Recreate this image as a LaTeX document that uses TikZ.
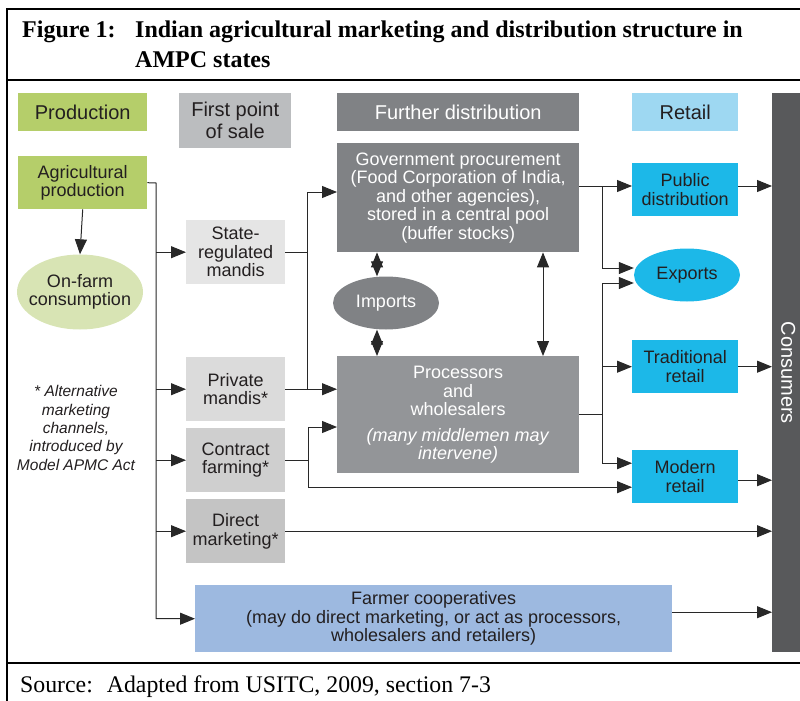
\documentclass[tikz,border=0pt]{standalone}
\usepackage{fontspec}
\setmainfont{Liberation Serif}
\setsansfont{Liberation Sans}
\usetikzlibrary{arrows.meta,shapes.geometric}

\definecolor{prodgreen}{RGB}{181,206,106}
\definecolor{farmgreen}{RGB}{216,228,180}
\definecolor{salegray}{RGB}{187,189,191}
\definecolor{distgray}{RGB}{128,130,133}
\definecolor{procgray}{RGB}{147,149,152}
\definecolor{retailhead}{RGB}{158,216,242}
\definecolor{retailblue}{RGB}{28,184,232}
\definecolor{consgray}{RGB}{88,89,91}
\definecolor{coopblue}{RGB}{157,185,224}
\definecolor{textdark}{RGB}{35,31,32}
\definecolor{linkgray}{RGB}{40,40,40}

\tikzset{
  box/.style={rectangle, inner sep=0pt, anchor=north west, align=center, text=textdark,
    font=\sffamily\fontsize{18}{18.5}\selectfont},
  head/.style={box, font=\sffamily\fontsize{20}{22}\selectfont},
  oval/.style={ellipse, inner sep=0pt, align=center, text=textdark,
    font=\sffamily\fontsize{18}{18.5}\selectfont},
  link/.style={draw=linkgray, line width=1pt},
  arr/.style={link, -{Triangle[length=15pt,width=12pt]}},
  dbl/.style={link, {Triangle[length=15pt,width=12pt]}-{Triangle[length=15pt,width=12pt]}}
}

\begin{document}
\begin{tikzpicture}[x=1pt,y=-1pt]
  \useasboundingbox (0,0) rectangle (800,701);

  % frame and caption
  \draw[line width=1.3pt] (7,701) -- (7,9) -- (800,9);
  \draw[line width=1.3pt] (7,80) -- (800,80);
  \draw[line width=1.3pt] (7,663) -- (800,663);
  \node[anchor=north west, inner sep=0pt, font=\bfseries\fontsize{24}{30}\selectfont] (figlabel) at (22,21) {Figure 1:};
  \node[anchor=north west, inner sep=0pt, align=left, font=\bfseries\fontsize{24}{30}\selectfont] (title) at (135,21)
    {Indian agricultural marketing and distribution structure in\\AMPC states};
  \node[anchor=base west, inner sep=0pt, font=\fontsize{23.8}{28}\selectfont] (source) at (20,692)
    {Source:\hspace{14pt}Adapted from USITC, 2009, section 7-3};

  % column heads
  \node[head, fill=prodgreen, minimum width=129, minimum height=38] (prodhead) at (18,93) {Production};
  \node[head, fill=salegray, minimum width=112, minimum height=55] (salehead) at (179,93) {First point\\of sale};
  \node[head, fill=distgray, text=white, minimum width=242, minimum height=38] (disthead) at (337,93) {Further distribution};
  \node[head, fill=retailhead, minimum width=106, minimum height=38] (retailh) at (632,93) {Retail};
  \node[box, fill=consgray, minimum width=28, minimum height=559] (cons) at (772,93) {};
  \node[rotate=-90, text=white, font=\sffamily\fontsize{20}{22}\selectfont] (conslabel) at ([xshift=2pt]cons.center) {Consumers};

  % production
  \node[box, fill=prodgreen, minimum width=129, minimum height=53] (agri) at (18,156) {Agricultural\\production};
  \node[oval, fill=farmgreen, inner xsep=-7pt, minimum width=126, minimum height=75] (onfarm) at (80,292) {On-farm\\consumption};
  \node[align=center, text=textdark, font=\sffamily\itshape\fontsize{15.5}{18.3}\selectfont] (note) at (76,428)
    {* Alternative\\marketing\\channels,\\introduced by\\Model APMC Act};

  % first point of sale
  \node[box, fill=black!10, minimum width=99, minimum height=64] (state) at (186,220) {State-\\regulated\\mandis};
  \node[box, fill=black!14, minimum width=99, minimum height=64] (private) at (186,357) {Private\\mandis*};
  \node[box, fill=black!19, minimum width=99, minimum height=64] (contract) at (186,428) {Contract\\farming*};
  \node[box, fill=black!23, minimum width=99, minimum height=64] (direct) at (186,499) {Direct\\marketing*};
  \node[box, fill=coopblue, minimum width=477, minimum height=67] (coop) at (195,585)
    {Farmer cooperatives\\(may do direct marketing, or act as processors,\\wholesalers and retailers)};

  % further distribution
  \node[box, fill=distgray, text=white, minimum width=242, minimum height=109] (gov) at (337,143)
    {Government procurement\\(Food Corporation of India,\\and other agencies),\\stored in a central pool\\(buffer stocks)};
  \node[oval, fill=distgray, text=white, minimum width=106, minimum height=53] (imports) at (386,303) {Imports};
  \node[box, fill=procgray, text=white, minimum width=242, minimum height=117] (proc) at (337,356)
    {Processors\\and\\wholesalers\\[7pt]\textit{(many middlemen may}\\\textit{intervene)}};

  % retail
  \node[box, fill=retailblue, minimum width=106, minimum height=53] (public) at (632,163) {Public\\distribution};
  \node[oval, fill=retailblue, minimum width=106, minimum height=53] (exports) at (687,275) {Exports};
  \node[box, fill=retailblue, minimum width=106, minimum height=53] (trad) at (632,340) {Traditional\\retail};
  \node[box, fill=retailblue, minimum width=106, minimum height=53] (modern) at (632,450) {Modern\\retail};

  % trunk points
  \coordinate (trunk) at (156,183);
  \coordinate (gtrunk) at (307,192);
  \coordinate (ctrunk) at (308,427);
  \coordinate (dtrunk) at (602,186);
  \coordinate (ptrunk) at (602,283);
  \coordinate (m1) at ([yshift=13.5pt]modern.west);
  \coordinate (m2) at ([yshift=-10.5pt]modern.west);
  \coordinate (mout) at ([yshift=-3.5pt]modern.east);
  \coordinate (cout) at ([yshift=6.5pt]coop.east);
  \coordinate (imtop) at ([xshift=-9pt]imports.north);
  \coordinate (imbot) at ([xshift=-9pt]imports.south);
  \coordinate (stock) at (543,0);

  % production to first point of sale
  \draw[arr] (agri.south) -- (onfarm.north);
  \draw[arr] (agri.east) -- (trunk) |- (coop.west);
  \draw[arr] (trunk |- state.west) -- (state.west);
  \draw[arr] (trunk |- private.west) -- (private.west);
  \draw[arr] (trunk |- contract.west) -- (contract.west);
  \draw[arr] (trunk |- direct.west) -- (direct.west);

  % first point of sale to further distribution
  \draw[link] (state.east) -- (gtrunk |- state.east);
  \draw[arr] (gtrunk |- private.east) -- (gtrunk) -- (gov.west |- gtrunk);
  \draw[arr] (private.east) -- (proc.west |- private.east);
  \draw[arr] (contract.east) -- (ctrunk |- contract.east) -- (ctrunk) -- (proc.west |- ctrunk);
  \draw[arr] (ctrunk |- contract.east) |- (m2);
  \draw[arr] (direct.east) -- (cons.west |- direct.east);
  \draw[arr] (cout) -- (cons.west |- cout);

  % imports and stocks
  \draw[dbl] (gov.south -| imtop) -- (imtop);
  \draw[dbl] (imbot) -- (proc.north -| imbot);
  \draw[dbl] (gov.south -| stock) -- (proc.north -| stock);

  % further distribution to retail
  \draw[arr] (gov.east |- dtrunk) -- (public.west |- dtrunk);
  \draw[arr] (dtrunk) |- ([yshift=7pt]exports.west);
  \draw[link] (proc.east) -- (ptrunk |- proc.east);
  \draw[arr] (ptrunk |- m1) -- (ptrunk) -- ([yshift=-8pt]exports.west);
  \draw[arr] (ptrunk |- trad.west) -- (trad.west);
  \draw[arr] (ptrunk |- m1) -- (m1);

  % retail to consumers
  \draw[arr] (public.east |- dtrunk) -- (cons.west |- dtrunk);
  \draw[arr] (trad.east) -- (cons.west |- trad.east);
  \draw[arr] (mout) -- (cons.west |- mout);
\end{tikzpicture}
\end{document}
